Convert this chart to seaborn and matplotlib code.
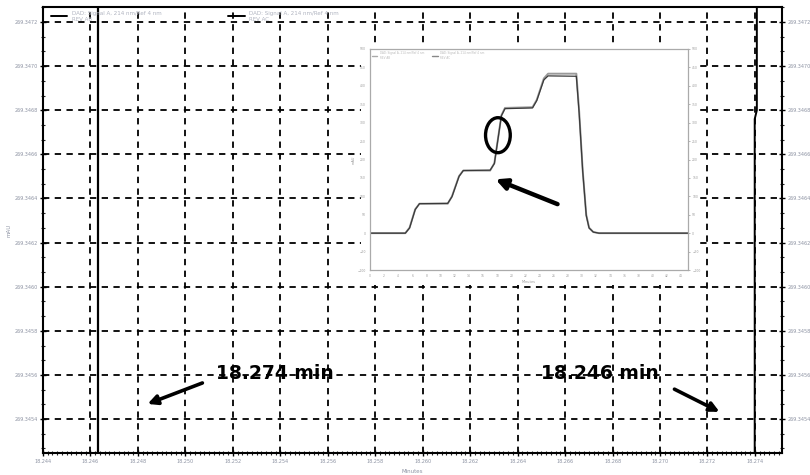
import matplotlib
matplotlib.use("Agg")
import matplotlib.pyplot as plt
import seaborn as sns
import pandas as pd
from matplotlib.patches import Ellipse
from matplotlib.lines import Line2D
from matplotlib.ticker import FixedLocator, AutoMinorLocator

# ---------------- data ----------------
sig1_time = [18.24632, 18.24632]
sig1_mau = [269.3450, 269.3476]
sig2_time = [18.27408, 18.27408, 18.27399, 18.27399]
sig2_mau = [269.3476, 269.34680, 269.34676, 269.3450]

x_ticks = [18.244, 18.246, 18.248, 18.250, 18.252, 18.254, 18.256, 18.258,
           18.260, 18.262, 18.264, 18.266, 18.268, 18.270, 18.272, 18.274]
x_tick_labels = ["18.244", "18.246", "18.248", "18.250", "18.252", "18.254", "18.256", "18.258",
                 "18.260", "18.262", "18.264", "18.266", "18.268", "18.270", "18.272", "18.274"]
y_ticks = [269.3454, 269.3456, 269.3458, 269.3460, 269.3462,
           269.3464, 269.3466, 269.3468, 269.3470, 269.3472]
y_tick_labels = ["269.3454", "269.3456", "269.3458", "269.3460", "269.3462",
                 "269.3464", "269.3466", "269.3468", "269.3470", "269.3472"]

legend_labels = ["DAD: Signal A, 214 nm/Ref 4 nm\nREV AB", "DAD: Signal A, 214 nm/Ref 4 nm\nREV AC"]

inset_time = [0, 5.0, 5.6, 6.4, 7.0, 11.0, 11.6, 12.6, 13.2, 17.0, 17.6, 18.6, 19.1,
              23.0, 23.6, 24.6, 25.2, 29.2, 29.6, 30.1, 30.6, 31.0, 31.6, 32.4, 45]
inset_a = [0, 0, 15, 65, 80, 80, 100, 155, 170, 170, 190, 320, 340,
           342, 362, 420, 433, 433, 330, 170, 50, 15, 3, 0, 0]
inset_b = [0, 0, 14, 64, 80, 81, 99, 154, 170, 171, 189, 319, 338,
           340, 360, 416, 427, 426, 325, 168, 48, 14, 3, 0, 0]
inset_x_ticks = [0, 2, 4, 6, 8, 10, 12, 14, 16, 18, 20, 22, 24, 26, 28, 30, 32, 34, 36, 38, 40, 42, 44]
inset_y_ticks = [-100, -50, 0, 50, 100, 150, 200, 250, 300, 350, 400, 450, 500]

ann_left_text = "18.274 min"
ann_right_text = "18.246 min"

# ---------------- figure ----------------
sns.set_style("white")
plt.rcParams["font.family"] = ["DejaVu Sans"]
plt.rcParams["text.color"] = "black"
W, H = 810, 475
fig = plt.figure(figsize=(W / 100, H / 100), dpi=100)

def px_rect(x0, y0, x1, y1):
    return [x0 / W, (H - y1) / H, (x1 - x0) / W, (y1 - y0) / H]

ax = fig.add_axes(px_rect(43, 7, 782, 453))
lab_col = "#8d93a3"

sns.lineplot(x=sig1_time, y=sig1_mau, sort=False, estimator=None, color="black",
             lw=1.6, ax=ax, zorder=5)
sns.lineplot(x=sig2_time, y=sig2_mau, sort=False, estimator=None, color="black",
             lw=1.4, ax=ax, zorder=5)

ax.set_xlim(18.244, 18.27514)
ax.set_ylim(269.345246, 269.347268)
ax.xaxis.set_major_locator(FixedLocator(x_ticks))
ax.set_xticklabels(x_tick_labels)
ax.yaxis.set_major_locator(FixedLocator(y_ticks))
ax.set_yticklabels(y_tick_labels)
ax.xaxis.set_minor_locator(AutoMinorLocator(10))
ax.yaxis.set_minor_locator(AutoMinorLocator(3))
ax.tick_params(axis="both", which="major", labelsize=3.5, labelcolor=lab_col,
               direction="inout", length=4, width=1.0, color="black", pad=2)
ax.tick_params(axis="both", which="minor", direction="inout", length=2.5, width=0.8)
ax.tick_params(axis="y", which="both", left=True, right=True, labelright=True)
ax.tick_params(axis="x", which="both", bottom=True, top=False)
ax.grid(True, which="major", color="black", linestyle=(0, (3.5, 3)), lw=1.3)
for s in ax.spines.values():
    s.set_color("black")
    s.set_linewidth(1.5)
ax.set_xlabel("Minutes", fontsize=4, color=lab_col, labelpad=4)
ax.set_ylabel("mAU", fontsize=4, color=lab_col)
ax.yaxis.set_label_coords(-0.042, 0.5)

handles = [Line2D([], [], color="black", lw=1.4), Line2D([], [], color="black", lw=1.4)]
ax.legend(handles, legend_labels, loc="upper left", ncol=2, fontsize=4, frameon=False,
          labelcolor="#b0b4c0", handlelength=3, columnspacing=12,
          bbox_to_anchor=(0.005, 1.0), borderaxespad=0.3)

ax.annotate("", xy=(18.248298, 269.345464), xytext=(18.250826, 269.345568),
            arrowprops=dict(arrowstyle="-|>", lw=2.6, color="black", mutation_scale=14),
            zorder=6)
ax.annotate("", xy=(18.272610, 269.345427), xytext=(18.270503, 269.345541),
            arrowprops=dict(arrowstyle="-|>", lw=2.6, color="black", mutation_scale=14),
            zorder=6)
ax.text(18.25128, 269.345605, ann_left_text, fontsize=13.5, fontweight="bold",
        color="black", va="center", ha="left", zorder=6)
ax.text(18.26500, 269.345605, ann_right_text, fontsize=13.5, fontweight="bold",
        color="black", va="center", ha="left", zorder=6)

# white background patch of the pasted inset
bg = fig.add_axes(px_rect(361, 43, 699, 285))
bg.set_facecolor("white")
bg.set_xticks([]); bg.set_yticks([])
for s in bg.spines.values():
    s.set_visible(False)

# inset chart
ins = fig.add_axes(px_rect(370, 49, 688, 270))
sns.lineplot(x=inset_time, y=inset_a, sort=False, estimator=None, color="#9a9a9a", lw=1.4, ax=ins)
sns.lineplot(x=inset_time, y=inset_b, sort=False, estimator=None, color="#3a3a3a", lw=0.9, ax=ins)
ins.set_xlim(0, 45)
ins.set_ylim(-100, 500)
ins.set_xticks(inset_x_ticks)
ins.set_yticks(inset_y_ticks)
ins.tick_params(labelsize=2.2, labelcolor="#9a9a9a", length=1.5, width=0.5, color="#999999",
                right=True, labelright=True, pad=1.5)
for s in ins.spines.values():
    s.set_color("#aaaaaa")
    s.set_linewidth(0.9)
ins.set_xlabel("Minutes", fontsize=2.5, color="#9a9a9a", labelpad=1)
ins.set_ylabel("mAU", fontsize=2.5, color="#9a9a9a", labelpad=1)
ins_handles = [Line2D([], [], color="#aaaaaa", lw=1.0), Line2D([], [], color="#888888", lw=1.0)]
ins.legend(ins_handles, legend_labels, loc="upper left", ncol=2, fontsize=2, frameon=False,
           labelcolor="#bbbbbb", handlelength=2, columnspacing=3, borderaxespad=0.3)

ins.add_patch(Ellipse((18.1, 266), 3.5, 95, fill=False, edgecolor="black", lw=2.4, zorder=6))
ins.annotate("", xy=(17.4, 149), xytext=(26.9, 76),
             arrowprops=dict(arrowstyle="-|>", lw=3.2, color="black", mutation_scale=16),
             zorder=6)

fig.savefig("out.png", dpi=100)
